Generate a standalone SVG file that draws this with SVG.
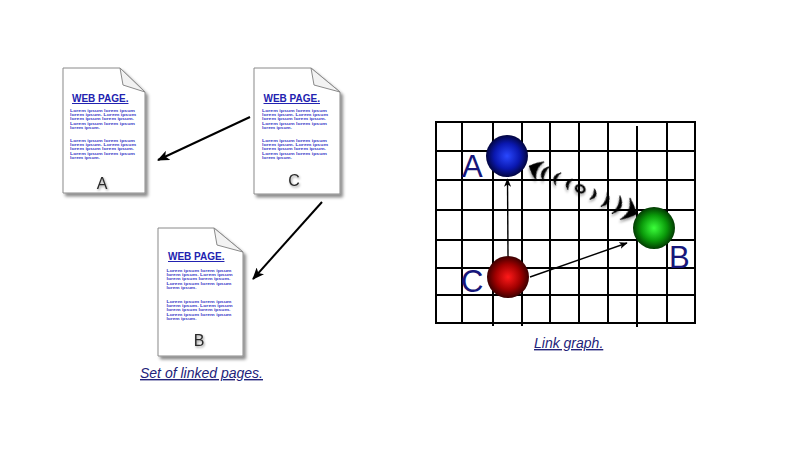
<svg xmlns="http://www.w3.org/2000/svg" width="800" height="476" viewBox="0 0 800 476">
<style>
.sheet{fill:#fff;stroke:#8a8a8a;stroke-width:1}
.flap{fill:#f2f2f2;stroke:#8a8a8a;stroke-width:1}
.title{font-family:"Liberation Sans",Arial,sans-serif;font-size:10px;font-weight:bold;fill:#2222b0;text-decoration:underline}
.lorem{font-family:"Liberation Sans",Arial,sans-serif;font-size:4.2px;font-weight:bold;fill:#3a3ac8}
.letter{font-family:"Liberation Sans",Arial,sans-serif;font-size:16px;fill:#2a2a2a;text-anchor:middle}
.glabel{font-family:"Liberation Sans",Arial,sans-serif;font-size:31px;fill:#16167a}
.caption{font-family:"Liberation Sans",Arial,sans-serif;font-size:14px;font-style:italic;fill:#23237a;text-decoration:underline}
.grid line{stroke:#000;stroke-width:2}
.link{stroke:#000;stroke-width:2;fill:none}
.glink{stroke:#000;stroke-width:1.4;fill:none}
.cr{fill:#000;stroke:#000;stroke-width:0.8;stroke-linejoin:round}
</style>
<defs>
<filter id="shadow" x="-20%" y="-20%" width="150%" height="150%">
<feDropShadow dx="2.5" dy="3" stdDeviation="1.5" flood-color="#000" flood-opacity="0.45"/>
</filter>
<filter id="tshadow" x="-30%" y="-30%" width="170%" height="170%">
<feDropShadow dx="1" dy="1.5" stdDeviation="0.8" flood-color="#000" flood-opacity="0.4"/>
</filter>
<filter id="sshadow" x="-20%" y="-40%" width="140%" height="180%">
<feDropShadow dx="0.5" dy="2.5" stdDeviation="1.2" flood-color="#000" flood-opacity="0.35"/>
</filter>
<marker id="arr" viewBox="0 0 12 10" refX="11" refY="5" markerWidth="6" markerHeight="5" orient="auto" markerUnits="strokeWidth">
<path d="M0,0 L12,5 L0,10 L3,5 Z" fill="#000"/>
</marker>
<marker id="arrs" viewBox="0 0 12 10" refX="11" refY="5" markerWidth="6" markerHeight="5" orient="auto" markerUnits="strokeWidth">
<path d="M0,0 L12,5 L0,10 L3,5 Z" fill="#000"/>
</marker>
<radialGradient id="gBlue" cx="50%" cy="50%" r="55%">
<stop offset="0" stop-color="#2a48ff"/>
<stop offset="0.55" stop-color="#0a18b0"/>
<stop offset="1" stop-color="#000022"/>
</radialGradient>
<radialGradient id="gGreen" cx="50%" cy="50%" r="55%">
<stop offset="0" stop-color="#3cff3c"/>
<stop offset="0.55" stop-color="#0a9a0a"/>
<stop offset="1" stop-color="#002200"/>
</radialGradient>
<radialGradient id="gRed" cx="50%" cy="50%" r="55%">
<stop offset="0" stop-color="#ff1a1a"/>
<stop offset="0.55" stop-color="#a00000"/>
<stop offset="1" stop-color="#220000"/>
</radialGradient>
</defs>
<rect width="800" height="476" fill="#fff"/>

<g id="pageA">
<path class="sheet" filter="url(#shadow)" d="M63,68 L120,68 L145,92 L145,193 L63,193 Z"/>
<path class="flap" d="M120,68 L123,85 L145,92 Z"/>
<text class="title" x="72" y="102">WEB PAGE.</text>
<text class="lorem" x="70" y="111.5" textLength="65" lengthAdjust="spacingAndGlyphs">Lorem ipsum lorem ipsum</text>
<text class="lorem" x="70" y="115.9" textLength="66" lengthAdjust="spacingAndGlyphs">lorem ipsum. Lorem ipsum</text>
<text class="lorem" x="70" y="120.3" textLength="64" lengthAdjust="spacingAndGlyphs">lorem ipsum lorem ipsum.</text>
<text class="lorem" x="70" y="124.7" textLength="65" lengthAdjust="spacingAndGlyphs">Lorem ipsum lorem ipsum</text>
<text class="lorem" x="70" y="129.1" textLength="30" lengthAdjust="spacingAndGlyphs">lorem ipsum.</text>
<text class="lorem" x="70" y="141.5" textLength="65" lengthAdjust="spacingAndGlyphs">Lorem ipsum lorem ipsum</text>
<text class="lorem" x="70" y="145.9" textLength="66" lengthAdjust="spacingAndGlyphs">lorem ipsum. Lorem ipsum</text>
<text class="lorem" x="70" y="150.3" textLength="64" lengthAdjust="spacingAndGlyphs">lorem ipsum lorem ipsum.</text>
<text class="lorem" x="70" y="154.7" textLength="65" lengthAdjust="spacingAndGlyphs">Lorem ipsum lorem ipsum</text>
<text class="lorem" x="70" y="159.1" textLength="30" lengthAdjust="spacingAndGlyphs">lorem ipsum.</text>
<text class="letter" filter="url(#tshadow)" x="102" y="189">A</text>
</g>

<g id="pageC">
<path class="sheet" filter="url(#shadow)" d="M254,68 L311,68 L340,92 L340,194 L254,194 Z"/>
<path class="flap" d="M311,68 L314,85 L340,92 Z"/>
<text class="title" x="263.5" y="102">WEB PAGE.</text>
<text class="lorem" x="262" y="111.5" textLength="65" lengthAdjust="spacingAndGlyphs">Lorem ipsum lorem ipsum</text>
<text class="lorem" x="262" y="115.9" textLength="66" lengthAdjust="spacingAndGlyphs">lorem ipsum. Lorem ipsum</text>
<text class="lorem" x="262" y="120.3" textLength="64" lengthAdjust="spacingAndGlyphs">lorem ipsum lorem ipsum.</text>
<text class="lorem" x="262" y="124.7" textLength="65" lengthAdjust="spacingAndGlyphs">Lorem ipsum lorem ipsum</text>
<text class="lorem" x="262" y="129.1" textLength="30" lengthAdjust="spacingAndGlyphs">lorem ipsum.</text>
<text class="lorem" x="262" y="141.5" textLength="65" lengthAdjust="spacingAndGlyphs">Lorem ipsum lorem ipsum</text>
<text class="lorem" x="262" y="145.9" textLength="66" lengthAdjust="spacingAndGlyphs">lorem ipsum. Lorem ipsum</text>
<text class="lorem" x="262" y="150.3" textLength="64" lengthAdjust="spacingAndGlyphs">lorem ipsum lorem ipsum.</text>
<text class="lorem" x="262" y="154.7" textLength="65" lengthAdjust="spacingAndGlyphs">Lorem ipsum lorem ipsum</text>
<text class="lorem" x="262" y="159.1" textLength="30" lengthAdjust="spacingAndGlyphs">lorem ipsum.</text>
<text class="letter" filter="url(#tshadow)" x="294" y="186">C</text>
</g>

<g id="pageB">
<path class="sheet" filter="url(#shadow)" d="M158,228 L214,228 L243,252 L243,356 L158,356 Z"/>
<path class="flap" d="M214,228 L217,245 L243,252 Z"/>
<text class="title" x="168" y="260">WEB PAGE.</text>
<text class="lorem" x="166.5" y="271.5" textLength="65" lengthAdjust="spacingAndGlyphs">Lorem ipsum lorem ipsum</text>
<text class="lorem" x="166.5" y="275.9" textLength="66" lengthAdjust="spacingAndGlyphs">lorem ipsum. Lorem ipsum</text>
<text class="lorem" x="166.5" y="280.3" textLength="64" lengthAdjust="spacingAndGlyphs">lorem ipsum lorem ipsum.</text>
<text class="lorem" x="166.5" y="284.7" textLength="65" lengthAdjust="spacingAndGlyphs">Lorem ipsum lorem ipsum</text>
<text class="lorem" x="166.5" y="289.1" textLength="30" lengthAdjust="spacingAndGlyphs">lorem ipsum.</text>
<text class="lorem" x="166.5" y="302.5" textLength="65" lengthAdjust="spacingAndGlyphs">Lorem ipsum lorem ipsum</text>
<text class="lorem" x="166.5" y="306.9" textLength="66" lengthAdjust="spacingAndGlyphs">lorem ipsum. Lorem ipsum</text>
<text class="lorem" x="166.5" y="311.3" textLength="64" lengthAdjust="spacingAndGlyphs">lorem ipsum lorem ipsum.</text>
<text class="lorem" x="166.5" y="315.7" textLength="65" lengthAdjust="spacingAndGlyphs">Lorem ipsum lorem ipsum</text>
<text class="lorem" x="166.5" y="320.1" textLength="30" lengthAdjust="spacingAndGlyphs">lorem ipsum.</text>
<text class="letter" filter="url(#tshadow)" x="199" y="346">B</text>
</g>

<g id="pageConnectors">
<line class="link" x1="250" y1="117" x2="158" y2="160" marker-end="url(#arr)"/>
<line class="link" x1="322" y1="202" x2="253" y2="279" marker-end="url(#arr)"/>
</g>

<text id="captionPages" class="caption" x="140" y="378">Set of linked pages.</text>

<g id="grid" class="grid">
<line x1="436" y1="122" x2="436" y2="324"/>
<line x1="462" y1="122" x2="462" y2="324"/>
<line x1="493" y1="122" x2="493" y2="326"/>
<line x1="522" y1="122" x2="522" y2="326"/>
<line x1="550" y1="122" x2="550" y2="324"/>
<line x1="579" y1="122" x2="579" y2="324"/>
<line x1="608" y1="122" x2="608" y2="324"/>
<line x1="637" y1="126" x2="637" y2="327"/>
<line x1="667" y1="122" x2="667" y2="324"/>
<line x1="695" y1="122" x2="695" y2="324"/>
<line x1="435" y1="122" x2="696" y2="122"/>
<line x1="435" y1="151" x2="696" y2="151"/>
<line x1="435" y1="180" x2="696" y2="180"/>
<line x1="435" y1="210" x2="696" y2="210"/>
<line x1="435" y1="240" x2="696" y2="240"/>
<line x1="435" y1="268" x2="696" y2="268"/>
<line x1="435" y1="295" x2="696" y2="295"/>
<line x1="435" y1="323" x2="696" y2="323"/>
</g>

<g id="graphConnectors">
<line class="glink" x1="508" y1="256" x2="507.5" y2="179" marker-end="url(#arrs)"/>
<line class="glink" x1="530" y1="277" x2="627" y2="243" marker-end="url(#arrs)"/>
<g id="swirlAB" transform="translate(583,190) rotate(24)" filter="url(#sshadow)">
<path class="cr" d="M-59,0 Q-54,-6 -47,-10 Q-51,-3 -50,0 Q-51,3 -47,10 Q-54,6 -59,0 Z"/>
<path class="cr" d="M-40,-8 Q-50,0 -40,8 Q-44,0 -40,-8 Z"/>
<path class="cr" d="M-27,-7 Q-36,0 -27,7 Q-31,0 -27,-7 Z"/>
<path class="cr" d="M-14,-6 Q-22,0 -14,6 Q-17,0 -14,-6 Z"/>
<ellipse cx="-3" cy="0" rx="4.5" ry="3.5" fill="none" stroke="#000" stroke-width="2.2"/>
<path class="cr" d="M10,-6 Q18,0 10,6 Q13,0 10,-6 Z"/>
<path class="cr" d="M23,-8 Q33,0 23,8 Q27,0 23,-8 Z"/>
<path class="cr" d="M36,-10 Q47,0 36,10 Q41,0 36,-10 Z"/>
<path class="cr" d="M59,0 Q54,-6 46,-12 Q51,-3 50,0 Q51,3 46,12 Q54,6 59,0 Z"/>
</g>
</g>

<g id="nodeA">
<circle cx="507" cy="156" r="21" fill="url(#gBlue)"/>
<text class="glabel" x="462" y="177">A</text>
</g>
<g id="nodeB">
<circle cx="654" cy="228" r="21" fill="url(#gGreen)"/>
<text class="glabel" x="669" y="268">B</text>
</g>
<g id="nodeC">
<circle cx="508" cy="277" r="21" fill="url(#gRed)"/>
<text class="glabel" x="461" y="292">C</text>
</g>

<text id="captionGraph" class="caption" x="534" y="348">Link graph.</text>
</svg>
